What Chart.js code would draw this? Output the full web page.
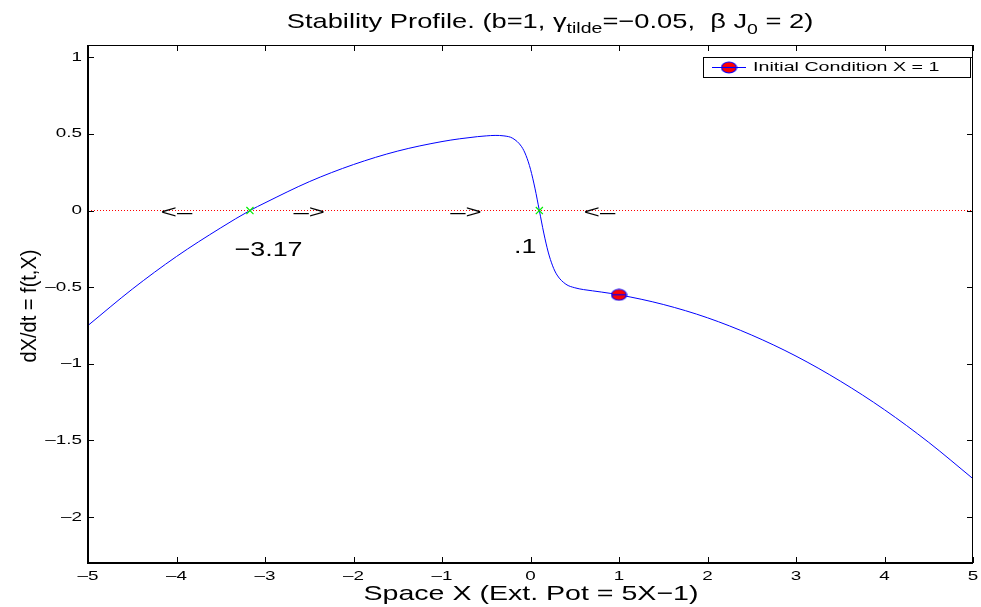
<!DOCTYPE html>
<html>
<head>
<meta charset="utf-8">
<script src="https://cdn.jsdelivr.net/npm/chart.js@4.4.0/dist/chart.umd.min.js"></script>
<style>
  body { margin: 0; background: #fff; }
  canvas { display: block; }
</style>
</head>
<body>
<canvas id="stabilityChart" width="981" height="607"></canvas>
<script>
// curve f(X)
const xValues = [-5, -4.5, -4, -3.5, -3.17, -3, -2.5, -2, -1.5, -1, -0.8, -0.6, -0.5, -0.4, -0.3, -0.2, -0.1, -0.05,
    0, 0.05, 0.1, 0.15, 0.2, 0.25, 0.3, 0.4, 0.5, 0.6, 0.7, 0.8, 1, 1.5, 2, 2.5, 3, 3.5, 4, 4.5, 5];
const fValues = [-0.75, -0.513, -0.3, -0.113, 0, 0.05, 0.188, 0.3, 0.388, 0.45, 0.468, 0.482, 0.487, 0.49, 0.487, 0.471, 0.416, 0.358,
    0.269, 0.146, 0, -0.147, -0.271, -0.361, -0.421, -0.481, -0.504, -0.516, -0.524, -0.532, -0.55, -0.613, -0.7, -0.813, -0.95, -1.113, -1.3, -1.513, -1.75];

const equilibriumX = [-3.17, 0.1];
const initialX = [1];
const initialY = [-0.55];

const xTicks = [-5, -4, -3, -2, -1, 0, 1, 2, 3, 4, 5];
const yTicks = [-2, -1.5, -1, -0.5, 0, 0.5, 1];

const arrowLabels = ['<\u2013', '\u2013>', '\u2013>', '<\u2013'];
const arrowX = [-4.0, -2.5, -0.73, 0.78];
const rootLabels = ['\u22123.17', '.1'];
const rootLabelX = [-2.96, -0.06];
const rootLabelY = [-0.26, -0.24];

const FONT = '"Liberation Sans", Arial, Helvetica, sans-serif';
const dash = v => String(v).replace('-', '\u2013');

const curveData = xValues.map((x, i) => ({ x: x, y: fValues[i] }));
const zeroData = [{ x: -5, y: 0 }, { x: 5, y: 0 }];
const eqData = equilibriumX.map(x => ({ x: x, y: 0 }));
const initData = initialX.map((x, i) => ({ x: x, y: initialY[i] }));

// the matlab marker is a slightly flattened circle
function ellipseMarker(w, h) {
    const c = document.createElement('canvas');
    c.width = w + 2; c.height = h + 2;
    const g = c.getContext('2d');
    g.fillStyle = '#ff0000';
    g.strokeStyle = '#0000ff';
    g.lineWidth = 1.2;
    g.beginPath();
    g.ellipse(c.width / 2, c.height / 2, w / 2, h / 2, 0, 0, Math.PI * 2);
    g.fill();
    g.stroke();
    g.beginPath();
    g.moveTo(1, c.height / 2); g.lineTo(c.width - 1, c.height / 2);
    g.stroke();
    return c;
}
const marker = ellipseMarker(15, 11);

// text drawn wider than the font, like the reference rendering
function wideText(ctx, text, x, y, size, sx, align, base) {
    ctx.save();
    ctx.font = size + 'px ' + FONT;
    ctx.textAlign = align || 'center';
    ctx.textBaseline = base || 'middle';
    ctx.translate(x, y);
    ctx.scale(sx, 1);
    ctx.fillText(text, 0, 0);
    ctx.restore();
}

const framePlugin = {
    id: 'matlabFrame',
    afterDraw(chart) {
        const ctx = chart.ctx;
        const a = chart.chartArea;
        const xs = chart.scales.x, ys = chart.scales.y;
        ctx.save();

        // box
        ctx.strokeStyle = '#000';
        ctx.lineWidth = 1;
        ctx.strokeRect(a.left + 0.5, a.top + 0.5, a.right - a.left - 1, a.bottom - a.top - 1);
        ctx.lineWidth = 2;
        ctx.beginPath();
        ctx.moveTo(a.left, a.top);
        ctx.lineTo(a.left, a.bottom);
        ctx.lineTo(a.right, a.bottom);
        ctx.stroke();

        // inward ticks
        ctx.lineWidth = 1;
        const tl = 6;
        ctx.beginPath();
        xs.ticks.forEach(t => {
            const px = Math.round(xs.getPixelForValue(t.value)) + 0.5;
            ctx.moveTo(px, a.bottom); ctx.lineTo(px, a.bottom - tl);
            ctx.moveTo(px, a.top); ctx.lineTo(px, a.top + tl);
        });
        ys.ticks.forEach(t => {
            const py = Math.round(ys.getPixelForValue(t.value)) + 0.5;
            ctx.moveTo(a.left, py); ctx.lineTo(a.left + tl, py);
            ctx.moveTo(a.right, py); ctx.lineTo(a.right - tl, py);
        });
        ctx.stroke();

        // tick labels
        ctx.fillStyle = '#000';
        xs.ticks.forEach(t => {
            wideText(ctx, dash(t.value), xs.getPixelForValue(t.value), a.bottom + 13, 13, 1.45);
        });
        ys.ticks.forEach(t => {
            wideText(ctx, dash(t.value), a.left - 6, ys.getPixelForValue(t.value), 13, 1.45, 'right');
        });

        // arrows and root labels
        arrowLabels.forEach((t, i) => {
            wideText(ctx, t, xs.getPixelForValue(arrowX[i]), ys.getPixelForValue(0) + 2, 19, 1.45);
        });
        rootLabels.forEach((t, i) => {
            wideText(ctx, t, xs.getPixelForValue(rootLabelX[i]), ys.getPixelForValue(rootLabelY[i]), 21, 1.28);
        });

        // title with subscripts
        const parts = [
            ['Stability Profile. (b=1, ', 21, 0],
            ['\u03b3', 21, 0],
            ['tilde', 15, 5],
            ['=\u22120.05,  \u03b2 J', 21, 0],
            ['0', 15, 6],
            [' = 2)', 21, 0]
        ];
        const tsx = 1.3;
        let total = 0;
        parts.forEach(p => { ctx.font = p[1] + 'px ' + FONT; total += ctx.measureText(p[0]).width * tsx; });
        let tx = 550 - total / 2;
        parts.forEach(p => {
            wideText(ctx, p[0], tx, 28 + p[2], p[1], tsx, 'left', 'alphabetic');
            ctx.font = p[1] + 'px ' + FONT;
            tx += ctx.measureText(p[0]).width * tsx;
        });

        // axis titles
        wideText(ctx, 'Space X (Ext. Pot = 5X\u22121)', 531, 600, 21, 1.36, 'center', 'alphabetic');
        ctx.save();
        ctx.translate(30, 306);
        ctx.rotate(-Math.PI / 2);
        ctx.font = '20px ' + FONT;
        ctx.textAlign = 'center';
        ctx.textBaseline = 'middle';
        ctx.scale(1, 1.1);
        ctx.fillText('dX/dt = f(t,X)', 0, 0);
        ctx.restore();

        // legend
        const lx = 703, ly = 57, lw = 267, lh = 20;
        ctx.fillStyle = '#fff';
        ctx.fillRect(lx, ly, lw, lh);
        ctx.strokeStyle = '#000';
        ctx.lineWidth = 1;
        ctx.strokeRect(lx + 0.5, ly + 0.5, lw, lh);
        const my = ly + lh / 2 + 0.5;
        ctx.strokeStyle = '#0000ff';
        ctx.beginPath();
        ctx.moveTo(lx + 9, my); ctx.lineTo(lx + 43, my);
        ctx.stroke();
        ctx.drawImage(marker, lx + 26 - marker.width / 2, my - marker.height / 2);
        ctx.fillStyle = '#000';
        wideText(ctx, chart.data.datasets[3].label, lx + 50, my, 12, 1.64, 'left');

        ctx.restore();
    }
};

new Chart(document.getElementById('stabilityChart'), {
    type: 'line',
    data: {
        datasets: [{
            label: 'f(X)',
            data: curveData,
            borderColor: '#0000ff',
            borderWidth: 1,
            pointRadius: 0,
            cubicInterpolationMode: 'monotone',
            fill: false,
            order: 3
        }, {
            label: 'zero',
            data: zeroData,
            borderColor: '#ff0000',
            borderWidth: 1,
            borderDash: [1, 2],
            pointRadius: 0,
            fill: false,
            order: 4
        }, {
            label: 'equilibria',
            data: eqData,
            showLine: false,
            pointStyle: 'crossRot',
            pointRadius: 5,
            borderColor: '#00ee00',
            pointBorderColor: '#00ee00',
            pointBorderWidth: 1.2,
            order: 1
        }, {
            label: 'Initial Condition X = 1',
            data: initData,
            showLine: false,
            pointStyle: marker,
            pointRadius: 7,
            order: 0
        }]
    },
    options: {
        responsive: false,
        animation: false,
        devicePixelRatio: 1,
        layout: { padding: { top: 45, right: 6, left: 0, bottom: 0 } },
        plugins: {
            legend: { display: false },
            tooltip: { enabled: false },
            title: { display: false }
        },
        scales: {
            x: {
                type: 'linear',
                min: -5,
                max: 5,
                grid: { display: false, drawTicks: false },
                border: { display: false },
                afterBuildTicks: s => { s.ticks = xTicks.map(v => ({ value: v })); },
                afterFit: s => { s.height = 44; },
                ticks: { display: false }
            },
            y: {
                type: 'linear',
                min: -2.3,
                max: 1.08,
                grid: { display: false, drawTicks: false },
                border: { display: false },
                afterBuildTicks: s => { s.ticks = yTicks.map(v => ({ value: v })); },
                afterFit: s => { s.width = 88; },
                ticks: { display: false }
            }
        }
    },
    plugins: [framePlugin]
});
</script>
</body>
</html>
